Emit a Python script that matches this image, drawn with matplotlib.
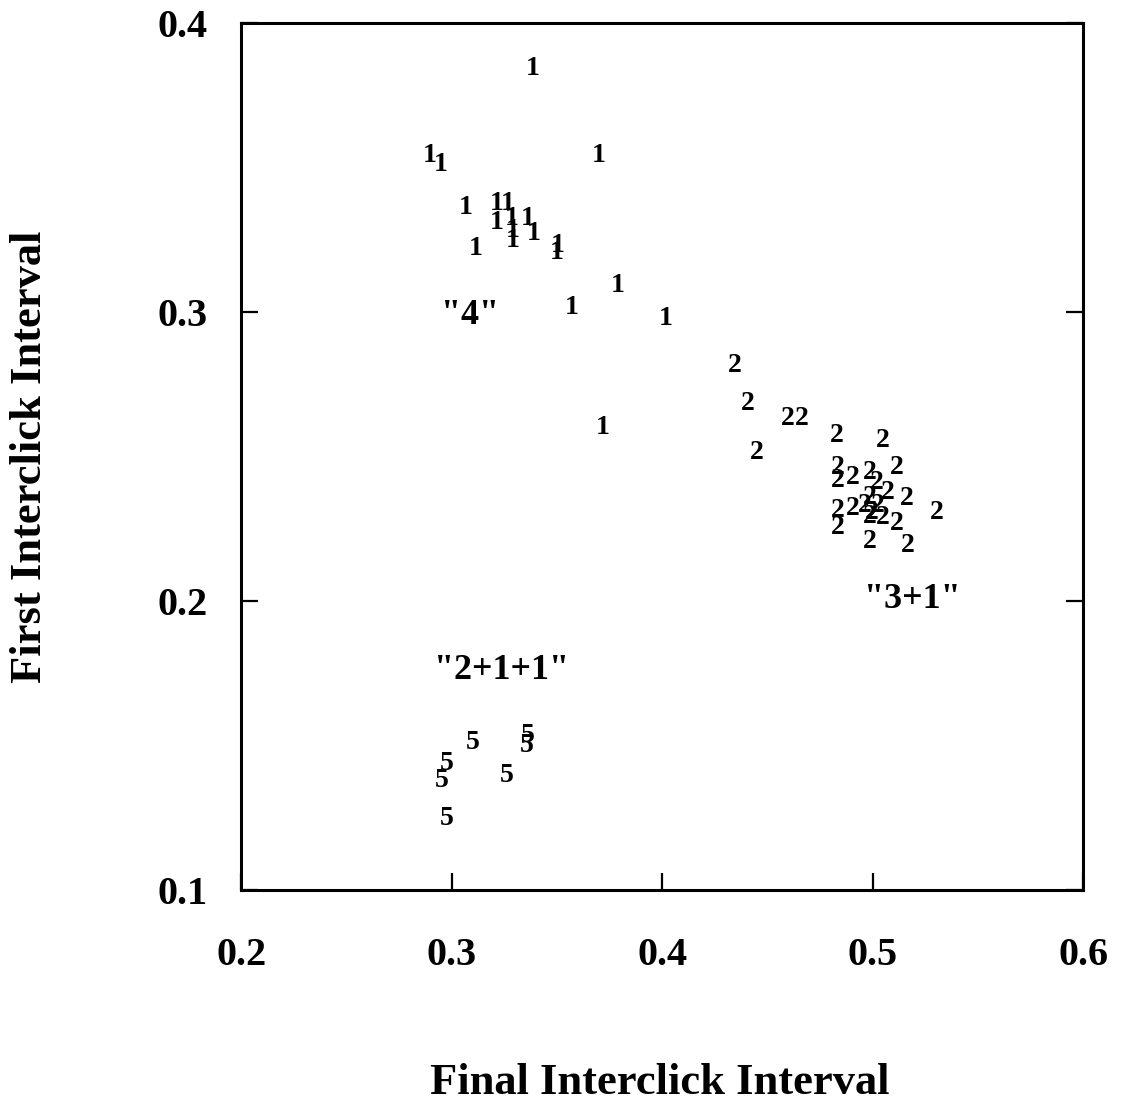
import matplotlib
matplotlib.use("Agg")
import matplotlib.pyplot as plt

plt.rcParams['font.family'] = ['Liberation Serif', 'DejaVu Serif']
plt.rcParams['font.weight'] = 'bold'

# Group "1" (labelled "4" cluster)
g1_final = [0.3385, 0.2896, 0.2948, 0.3698, 0.3067, 0.3214, 0.3214, 0.3266,
            0.3285, 0.3290, 0.3290, 0.3361, 0.3390, 0.3504, 0.3499, 0.3114,
            0.3789, 0.3570, 0.4017, 0.3717]
g1_first = [0.3842, 0.3544, 0.3513, 0.3544, 0.3364, 0.3378, 0.3312, 0.3378,
            0.3326, 0.3284, 0.3249, 0.3326, 0.3274, 0.3232, 0.3208, 0.3222,
            0.3094, 0.3017, 0.2979, 0.2602]

# Group "2" (labelled "3+1" cluster)
g2_final = [0.4344, 0.4406, 0.4596, 0.4662, 0.4449, 0.4829, 0.5048, 0.5114,
            0.4834, 0.4834, 0.4905, 0.4986, 0.5019, 0.4986, 0.5071, 0.5162,
            0.5304, 0.4834, 0.4834, 0.4905, 0.4962, 0.4995, 0.5024, 0.4986,
            0.5048, 0.5114, 0.4986, 0.5166]
g2_first = [0.2816, 0.2685, 0.2633, 0.2633, 0.2515, 0.2574, 0.2557, 0.2464,
            0.2464, 0.2419, 0.2426, 0.2446, 0.2412, 0.2360, 0.2377, 0.2356,
            0.2307, 0.2314, 0.2256, 0.2321, 0.2331, 0.2307, 0.2331, 0.2294,
            0.2290, 0.2269, 0.2207, 0.2193]

# Group "5" (labelled "2+1+1" cluster)
g5_final = [0.3100, 0.3361, 0.3356, 0.2976, 0.2952, 0.3261, 0.2976]
g5_first = [0.1511, 0.1535, 0.1500, 0.1438, 0.1379, 0.1397, 0.1247]

group_symbols = ['1', '2', '5']

cluster_names = ['"4"', '"3+1"', '"2+1+1"']
cluster_x = [0.3086, 0.5190, 0.3237]
cluster_y = [0.2990, 0.2006, 0.1760]

x_ticks = [0.2, 0.3, 0.4, 0.5, 0.6]
y_ticks = [0.1, 0.2, 0.3, 0.4]

fig = plt.figure(figsize=(11.22, 11.11), dpi=100)
ax = fig.add_axes([0.2152, 0.199, 0.7501, 0.7800])

groups = [(g1_final, g1_first), (g2_final, g2_first), (g5_final, g5_first)]
for sym, (xs, ys) in zip(group_symbols, groups):
    for xv, yv in zip(xs, ys):
        ax.text(xv, yv, sym, ha='center', va='center', fontsize=20,
                fontweight='bold', color='black')

for name, xv, yv in zip(cluster_names, cluster_x, cluster_y):
    ax.text(xv, yv, name, ha='center', va='center', fontsize=26,
            fontweight='bold', color='black')

ax.set_xlim(0.2, 0.6)
ax.set_ylim(0.1, 0.4)
ax.set_xticks(x_ticks)
ax.set_yticks(y_ticks)
ax.set_xticklabels([f"{t:.1f}" for t in x_ticks])
ax.set_yticklabels([f"{t:.1f}" for t in y_ticks])

for s in ax.spines.values():
    s.set_linewidth(2.2)
ax.tick_params(axis='both', direction='in', length=12, width=1.6,
               labelsize=29, right=True, top=False)
ax.tick_params(axis='x', pad=34)
ax.tick_params(axis='y', pad=24)
for lab in ax.get_xticklabels() + ax.get_yticklabels():
    lab.set_fontweight('bold')

fig.text(0.588, 0.025, 'Final Interclick Interval', ha='center', va='center',
         fontsize=32, fontweight='bold')
fig.text(0.027, 0.589, 'First Interclick Interval', ha='center', va='center',
         rotation=90, fontsize=32, fontweight='bold')

fig.savefig('out.png', dpi=100)
